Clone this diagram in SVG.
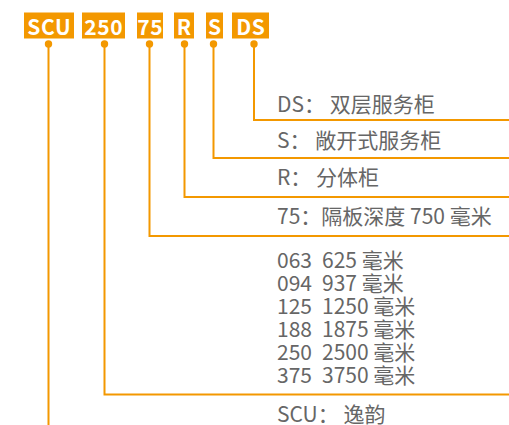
<svg xmlns="http://www.w3.org/2000/svg" width="509" height="425" viewBox="0 0 509 425">
<style>
.box{fill:#F39800}
.bt{fill:#fff;font-family:"Noto Sans CJK SC","Noto Sans",sans-serif;font-weight:bold;font-size:21px;letter-spacing:0.6px;text-anchor:middle}
.ln{fill:none;stroke:#F39800;stroke-width:2}
.dot{fill:#F39800}
.lb{fill:#666;font-family:"Noto Sans CJK SC",sans-serif;font-size:21px}
</style>
<rect width="509" height="425" fill="#fff"/>
<g id="node-SCU"><rect class="box" x="24" y="12.5" width="50" height="26"/><text class="bt" x="49.3" y="34.5">SCU</text></g>
<g id="node-250"><rect class="box" x="82" y="12.5" width="43" height="26"/><text class="bt" x="103.8" y="34.5">250</text></g>
<g id="node-75"><rect class="box" x="137" y="12.5" width="26" height="26"/><text class="bt" x="150.3" y="34.5">75</text></g>
<g id="node-R"><rect class="box" x="174" y="12.5" width="20" height="26"/><text class="bt" x="184.3" y="34.5">R</text></g>
<g id="node-S"><rect class="box" x="206" y="12.5" width="17" height="26"/><text class="bt" x="214.8" y="34.5">S</text></g>
<g id="node-DS"><rect class="box" x="232" y="12.5" width="37" height="26"/><text class="bt" x="250.8" y="34.5">DS</text></g>
<g id="connectors">
<circle class="dot" cx="48.5" cy="44" r="3.7"/>
<circle class="dot" cx="104.5" cy="44" r="3.7"/>
<circle class="dot" cx="149.5" cy="44" r="3.7"/>
<circle class="dot" cx="184.5" cy="44" r="3.7"/>
<circle class="dot" cx="213.5" cy="44" r="3.7"/>
<circle class="dot" cx="254" cy="44" r="3.7"/>
<path class="ln" d="M48.5 44V425"/>
<path class="ln" d="M104.5 44V394.5H509"/>
<path class="ln" d="M149.5 44V236H509"/>
<path class="ln" d="M184.5 44V197H509"/>
<path class="ln" d="M213.5 44V158H509"/>
<path class="ln" d="M254 44V120H509"/>
</g>
<g id="labels">
<text class="lb" x="277" y="112">DS： 双层服务柜</text>
<text class="lb" x="277" y="148">S： 敞开式服务柜</text>
<text class="lb" x="277" y="185">R： 分体柜</text>
<text class="lb" x="277" y="224">75：隔板深度 750 毫米</text>
<text class="lb" x="277" y="268">063</text><text class="lb" x="322" y="268">625 毫米</text>
<text class="lb" x="277" y="291">094</text><text class="lb" x="322" y="291">937 毫米</text>
<text class="lb" x="277" y="314">125</text><text class="lb" x="322" y="314">1250 毫米</text>
<text class="lb" x="277" y="337">188</text><text class="lb" x="322" y="337">1875 毫米</text>
<text class="lb" x="277" y="360">250</text><text class="lb" x="322" y="360">2500 毫米</text>
<text class="lb" x="277" y="383">375</text><text class="lb" x="322" y="383">3750 毫米</text>
<text class="lb" x="277" y="422">SCU： 逸韵</text>
</g>
</svg>
